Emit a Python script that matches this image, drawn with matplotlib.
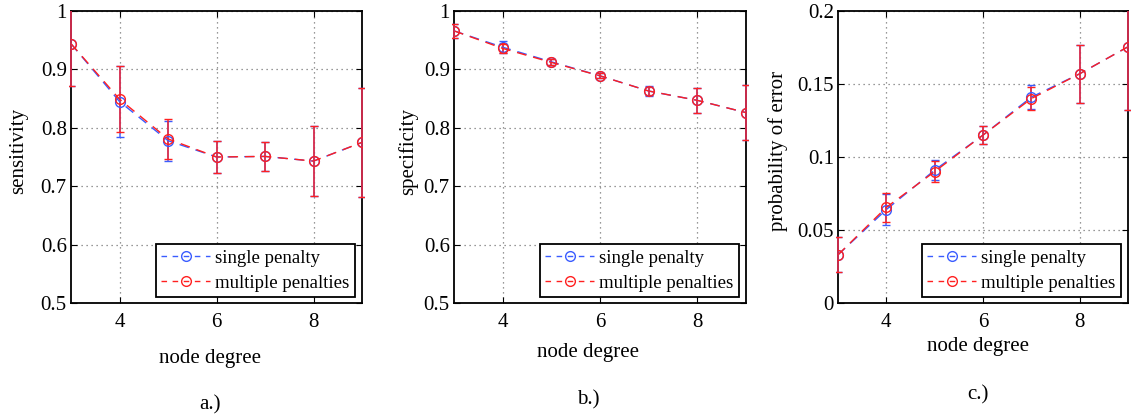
import numpy as np
import matplotlib
matplotlib.use("Agg")
import matplotlib.pyplot as plt
from matplotlib.patches import Rectangle

plt.rcParams['font.family'] = ['Liberation Serif', 'DejaVu Serif']

# node degree on the x axis
degree = [3, 4, 5, 6, 7, 8, 9]

# a.) sensitivity
sens_single = [0.944, 0.845, 0.778, 0.750, 0.751, 0.743, 0.775]
sens_single_err = [0.072, 0.060, 0.034, 0.028, 0.025, 0.060, 0.093]
sens_multi = [0.944, 0.849, 0.781, 0.750, 0.751, 0.743, 0.775]
sens_multi_err = [0.072, 0.057, 0.034, 0.028, 0.025, 0.060, 0.093]

# b.) specificity
spec_single = [0.966, 0.938, 0.913, 0.889, 0.863, 0.847, 0.826]
spec_single_err = [0.012, 0.010, 0.005, 0.004, 0.008, 0.022, 0.047]
spec_multi = [0.966, 0.936, 0.912, 0.889, 0.863, 0.847, 0.826]
spec_multi_err = [0.012, 0.008, 0.005, 0.004, 0.007, 0.022, 0.047]

# c.) probability of error
perr_single = [0.033, 0.064, 0.091, 0.115, 0.141, 0.157, 0.1755]
perr_single_err = [0.012, 0.0105, 0.007, 0.006, 0.008, 0.020, 0.043]
perr_multi = [0.033, 0.0655, 0.090, 0.115, 0.140, 0.157, 0.1755]
perr_multi_err = [0.012, 0.0097, 0.007, 0.006, 0.008, 0.020, 0.043]

legend_labels = ["single penalty", "multiple penalties"]
BLUE = "#3a5cff"
RED = "#ff2020"


def draw_panel(ax, single, single_err, multi, multi_err, ylim, yticks, ylabel, ylabel_x):
    handles = []
    # clip error bars only a hair outside the sides, so bars on the side spines stay visible
    clip = Rectangle((-0.006, 0), 1.012, 1, transform=ax.transAxes, visible=False)
    ax.add_patch(clip)
    for vals, errs, col in [(single, single_err, BLUE), (multi, multi_err, RED)]:
        line, caps, bars = ax.errorbar(degree, vals, yerr=errs, color=col, ecolor=col,
                                       marker="o", markersize=7, markerfacecolor="none",
                                       markeredgewidth=1.0, linewidth=1.0, elinewidth=1.3,
                                       capsize=3, capthick=1.3, zorder=3)
        line.set_dashes((7, 5))
        for b in bars:
            b.set_alpha(0.8)
            b.set_clip_path(clip)
        for c in caps:
            c.set_clip_path(clip)
        handles.append(line)
    ax.set_xlim(3, 9)
    ax.set_ylim(*ylim)
    ax.set_xticks([4, 6, 8])
    ax.set_yticks(yticks)
    ax.yaxis.set_major_formatter(plt.FuncFormatter(lambda v, p: "%g" % round(v, 3)))
    ax.grid(True, color="#777777", linestyle=(0, (1, 3)), linewidth=0.9)
    ax.tick_params(direction="in", top=True, right=True, length=4, labelsize=15)
    ax.tick_params(axis="y", pad=3)
    ax.tick_params(axis="x", pad=7)
    for s in ax.spines.values():
        s.set_linewidth(1.3)
    ax.set_ylabel(ylabel, fontsize=15)
    ax.yaxis.set_label_coords(ylabel_x, 0.52)
    leg = ax.legend(handles, legend_labels, loc="lower right", bbox_to_anchor=(0.975, 0.02),
                    fontsize=13.5, fancybox=False, framealpha=1, edgecolor="black",
                    handlelength=2.6, borderpad=0.3, labelspacing=0.4, handletextpad=0.25,
                    borderaxespad=0)
    leg.get_frame().set_linewidth(1.3)
    leg.set_zorder(5)
    for h in leg.get_lines():
        h.set_dashes((4, 4))


fig = plt.figure(figsize=(11.33, 4.18), dpi=100)
W, H = 1133, 418

def axes_at(left, right, top=11, bottom=303):
    return fig.add_axes([left / W, 1 - bottom / H, (right - left) / W, (bottom - top) / H])

ax_a = axes_at(71, 362)
ax_b = axes_at(454, 746)
ax_c = axes_at(838, 1128)

draw_panel(ax_a, sens_single, sens_single_err, sens_multi, sens_multi_err,
           (0.5, 1.0), np.arange(0.5, 1.01, 0.1), "sensitivity", -0.148)
draw_panel(ax_b, spec_single, spec_single_err, spec_multi, spec_multi_err,
           (0.5, 1.0), np.arange(0.5, 1.01, 0.1), "specificity", -0.123)
draw_panel(ax_c, perr_single, perr_single_err, perr_multi, perr_multi_err,
           (0.0, 0.2), np.arange(0.0, 0.201, 0.05), "probability of error", -0.172)

# x labels and panel captions
fig.text(210 / W, 1 - 358 / H, "node degree", ha="center", va="center", fontsize=15)
fig.text(588 / W, 1 - 353 / H, "node degree", ha="center", va="center", fontsize=15)
fig.text(978 / W, 1 - 347 / H, "node degree", ha="center", va="center", fontsize=15)
fig.text(210 / W, 1 - 405 / H, "a.)", ha="center", va="center", fontsize=15)
fig.text(588 / W, 1 - 400 / H, "b.)", ha="center", va="center", fontsize=15)
fig.text(978 / W, 1 - 395 / H, "c.)", ha="center", va="center", fontsize=15)

fig.savefig("out.png", dpi=100)
